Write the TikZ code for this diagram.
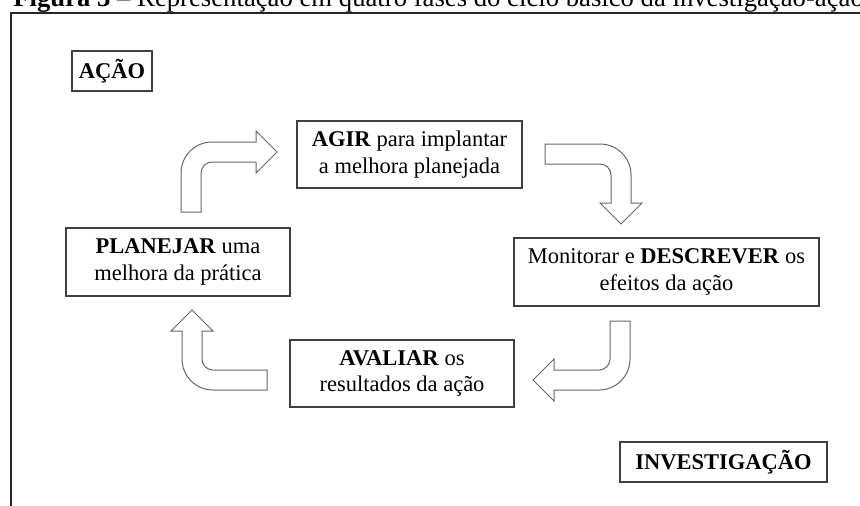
\documentclass[tikz,border=0pt]{standalone}
\usepackage{fontspec}
\setmainfont{Liberation Serif}

\begin{document}
\begin{tikzpicture}[x=0.5pt,y=-0.5pt,
    caixa/.style={draw=black!75,line width=0.65pt,align=center,inner sep=0pt,
      font=\fontsize{11.25}{13.4}\selectfont},
    seta/.style={draw=black!60,line width=0.5pt,fill=white}]
  \useasboundingbox (0,0) rectangle (860,505);
  \clip (0,0) rectangle (860,505);

  % Caption and frame
  \node[anchor=base west,inner sep=0pt,font=\fontsize{13.35}{16}\selectfont] (legenda) at (13,6)
    {\textbf{Figura 3} -- Representação em quatro fases do ciclo básico da investigação-ação};
  \draw[line width=1.2pt,black!85] (11,510) -- (11,13) -- (870,13);

  % Boxes
  \node[caixa,minimum width=40pt,minimum height=20pt] (acao) at (112,71) {\textbf{AÇÃO}};
  \node[caixa,minimum width=112.5pt,minimum height=33.5pt] (agir) at (409.5,154.5)
    {\textbf{AGIR} para implantar\\a melhora planejada};
  \node[caixa,minimum width=152.5pt,minimum height=34pt] (monitorar) at (666.5,272)
    {Monitorar e \textbf{DESCREVER} os\\efeitos da ação};
  \node[caixa,minimum width=112pt,minimum height=33.5pt] (avaliar) at (402,373.5)
    {\textbf{AVALIAR} os\\resultados da ação};
  \node[caixa,minimum width=112pt,minimum height=34pt] (planejar) at (178,262)
    {\textbf{PLANEJAR} uma\\melhora da prática};
  \node[caixa,minimum width=103.5pt,minimum height=20pt] (investigacao) at (723.5,462)
    {\textbf{INVESTIGAÇÃO}};

  % Bent arrows (tails)
  \coordinate (s1) at (191,212);
  \coordinate (s2) at (545,154);
  \coordinate (s3) at (620,321);
  \coordinate (s4) at (267,380);

  \draw[seta] (s1) ++(-10,0) -- ++(0,-39) arc[start angle=180,end angle=270,radius=31]
    -- ++(44,0) -- ++(0,-11) -- ++(21,21) -- ++(-21,21) -- ++(0,-11) -- ++(-44,0)
    arc[start angle=270,end angle=180,radius=11] -- ++(0,39) -- cycle;
  \draw[seta] (s2) ++(0,-10) -- ++(55,0) arc[start angle=270,end angle=360,radius=31]
    -- ++(0,28) -- ++(11,0) -- ++(-21,21) -- ++(-21,-21) -- ++(11,0) -- ++(0,-28)
    arc[start angle=0,end angle=-90,radius=11] -- ++(-55,0) -- cycle;
  \draw[seta] (s3) ++(10,0) -- ++(0,38) arc[start angle=0,end angle=90,radius=31]
    -- ++(-45,0) -- ++(0,11) -- ++(-21,-21) -- ++(21,-21) -- ++(0,11) -- ++(45,0)
    arc[start angle=90,end angle=0,radius=11] -- ++(0,-38) -- cycle;
  \draw[seta] (s4) ++(0,10) -- ++(-54,0) arc[start angle=90,end angle=180,radius=31]
    -- ++(0,-28) -- ++(-11,0) -- ++(21,-21) -- ++(21,21) -- ++(-11,0) -- ++(0,28)
    arc[start angle=180,end angle=90,radius=11] -- ++(54,0) -- cycle;
\end{tikzpicture}
\end{document}
